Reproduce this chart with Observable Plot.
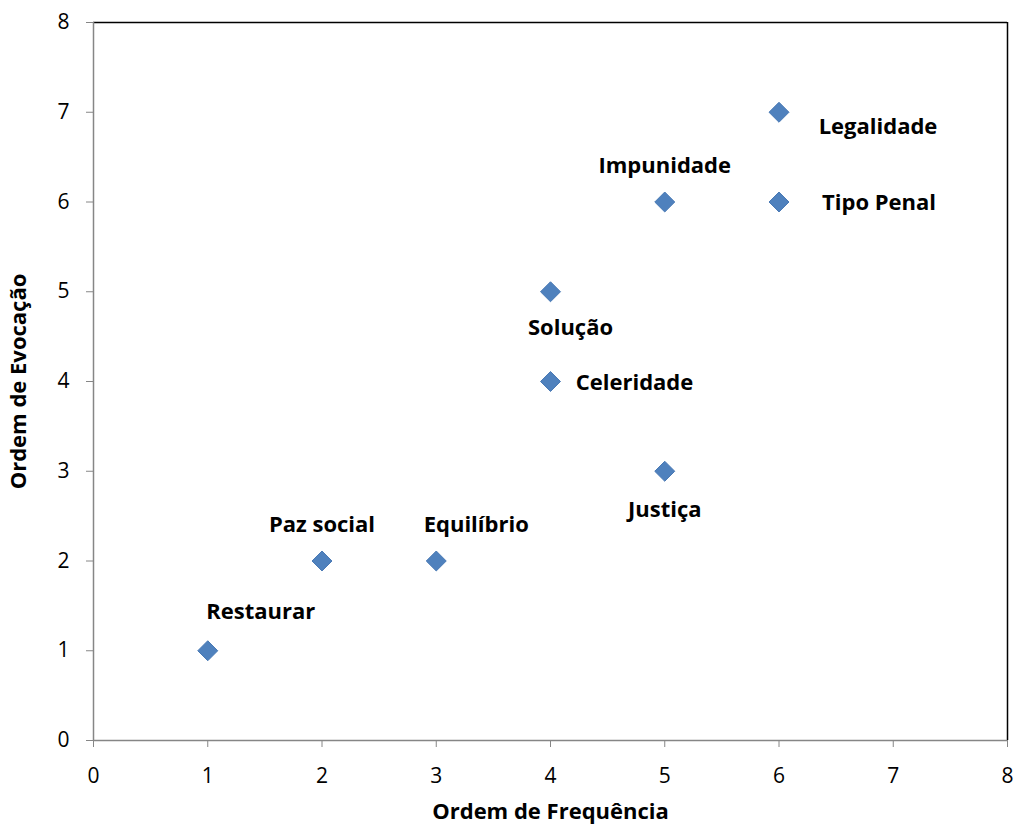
<!DOCTYPE html>
<html>
<head>
<meta charset="utf-8">
<script src="https://cdn.jsdelivr.net/npm/d3@7"></script>
<script src="https://cdn.jsdelivr.net/npm/@observablehq/plot@0.6"></script>
<style>
  html, body { margin: 0; padding: 0; background: #fff; }
  #chart svg { display: block; }
</style>
</head>
<body>
<div id="chart"></div>
<script>
// Data
const labels = ["Restaurar", "Paz social", "Equilíbrio", "Solução", "Celeridade", "Justiça", "Impunidade", "Tipo Penal", "Legalidade"];
const frequencia = [1, 2, 3, 4, 4, 5, 5, 6, 6];
const evocacao = [1, 2, 2, 5, 4, 3, 6, 6, 7];
const ticks = [0, 1, 2, 3, 4, 5, 6, 7, 8];

// label placement (pixel offsets from point)
const placement = {
  "Restaurar": [53, -39],
  "Paz social": [0, -36],
  "Equilíbrio": [40, -36],
  "Solução": [20, 36],
  "Celeridade": [84, 1],
  "Justiça": [0, 39],
  "Impunidade": [0, -36],
  "Tipo Penal": [100, 1],
  "Legalidade": [99, 15]
};

const data = labels.map((l, i) => ({ label: l, x: frequencia[i], y: evocacao[i] }));

const FONT = "'Open Sans', sans-serif";

const labelMarks = data.map(d => Plot.text([d], {
  x: "x", y: "y", text: "label",
  dx: placement[d.label][0], dy: placement[d.label][1],
  fontSize: 22, fontWeight: "bold", fill: "#000", textAnchor: "middle",
  fontFamily: FONT
}));

const chart = Plot.plot({
  width: 1015,
  height: 826,
  marginLeft: 93,
  marginRight: 8,
  marginTop: 22,
  marginBottom: 86,
  style: { fontFamily: FONT, background: "#fff", overflow: "visible" },
  x: { domain: [0, 8], ticks: ticks, label: null },
  y: { domain: [0, 8], ticks: ticks, label: null },
  marks: [
    Plot.ruleY([8], { stroke: "#000", strokeWidth: 1.5 }),
    Plot.ruleX([8], { stroke: "#000", strokeWidth: 1.5 }),
    Plot.ruleX([0], { stroke: "#868686", strokeWidth: 1.5 }),
    Plot.ruleY([0], { stroke: "#868686", strokeWidth: 1.5 }),
    Plot.axisY({ ticks: ticks, tickSize: 7, tickPadding: 17, stroke: "#868686", fontSize: 21, fill: "#000", label: null, tickFormat: d => String(d) }),
    Plot.axisX({ ticks: ticks, tickSize: 7, tickPadding: 21, stroke: "#868686", fontSize: 21, fill: "#000", label: null, tickFormat: d => String(d) }),
    Plot.dot(data, { x: "x", y: "y", symbol: "diamond2", r: 9, fill: "#4f81bd", stroke: "#4a7ab5", strokeWidth: 1 }),
    ...labelMarks,
    Plot.text(["Ordem de Frequência"], { frameAnchor: "bottom", dy: 78, fontSize: 22, fontWeight: "bold", fill: "#000", fontFamily: FONT, textAnchor: "middle" }),
    Plot.text(["Ordem de Evocação"], { frameAnchor: "left", dx: -75, rotate: -90, fontSize: 22, fontWeight: "bold", fill: "#000", fontFamily: FONT, textAnchor: "middle" })
  ]
});

document.getElementById("chart").appendChild(chart);
</script>
</body>
</html>
